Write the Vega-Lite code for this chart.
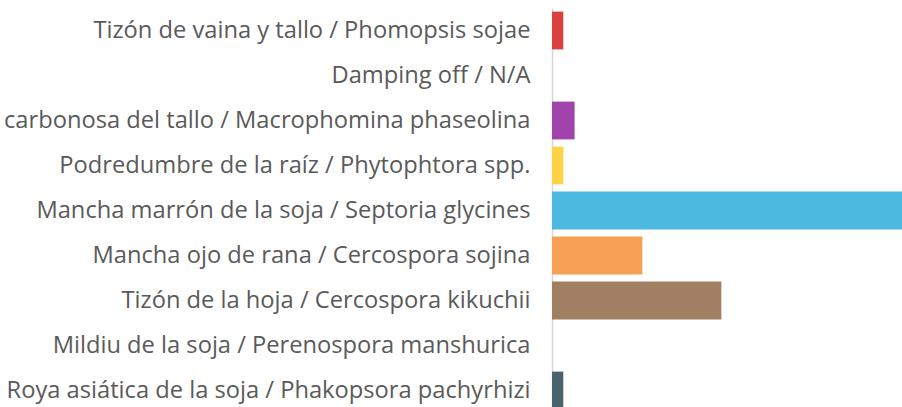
{
  "$schema": "https://vega.github.io/schema/vega-lite/v6.json",
  "autosize": {"type": "none"},
  "padding": {"left": 552, "top": 8, "right": 0, "bottom": 0},
  "width": 350,
  "height": 399,
  "background": "white",
  "data": {
    "values": [
      {"enfermedad": "Tizón de vaina y tallo / Phomopsis sojae", "casos": 1, "color": "#d94141"},
      {"enfermedad": "Damping off / N/A", "casos": 0, "color": "#cccccc"},
      {"enfermedad": "Podredumbre carbonosa del tallo / Macrophomina phaseolina", "casos": 2, "color": "#a044ab"},
      {"enfermedad": "Podredumbre de la raíz / Phytophtora spp.", "casos": 1, "color": "#fdd245"},
      {"enfermedad": "Mancha marrón de la soja / Septoria glycines", "casos": 31, "color": "#4bb9e0"},
      {"enfermedad": "Mancha ojo de rana / Cercospora sojina", "casos": 8, "color": "#f5a052"},
      {"enfermedad": "Tizón de la hoja / Cercospora kikuchii", "casos": 15, "color": "#a17f62"},
      {"enfermedad": "Mildiu de la soja / Perenospora manshurica", "casos": 0, "color": "#cccccc"},
      {"enfermedad": "Roya asiática de la soja / Phakopsora pachyrhizi", "casos": 1, "color": "#4a626d"}
    ]
  },
  "mark": {"type": "bar"},
  "encoding": {
    "y": {
      "field": "enfermedad",
      "type": "nominal",
      "sort": null,
      "scale": {"range": [0, 405], "paddingInner": 0.16, "paddingOuter": 0.08},
      "axis": {
        "title": null,
        "ticks": false,
        "domain": true,
        "domainColor": "#d6d6d6",
        "domainWidth": 1.5,
        "labelFont": "Open Sans",
        "labelFontSize": 23.7,
        "labelColor": "#5a5a5a",
        "labelPadding": 22,
        "labelLimit": 1000
      }
    },
    "x": {
      "field": "casos",
      "type": "quantitative",
      "scale": {"domain": [0, 31], "nice": false},
      "axis": null
    },
    "color": {"field": "color", "type": "nominal", "scale": null, "legend": null}
  },
  "config": {"view": {"stroke": null}}
}
